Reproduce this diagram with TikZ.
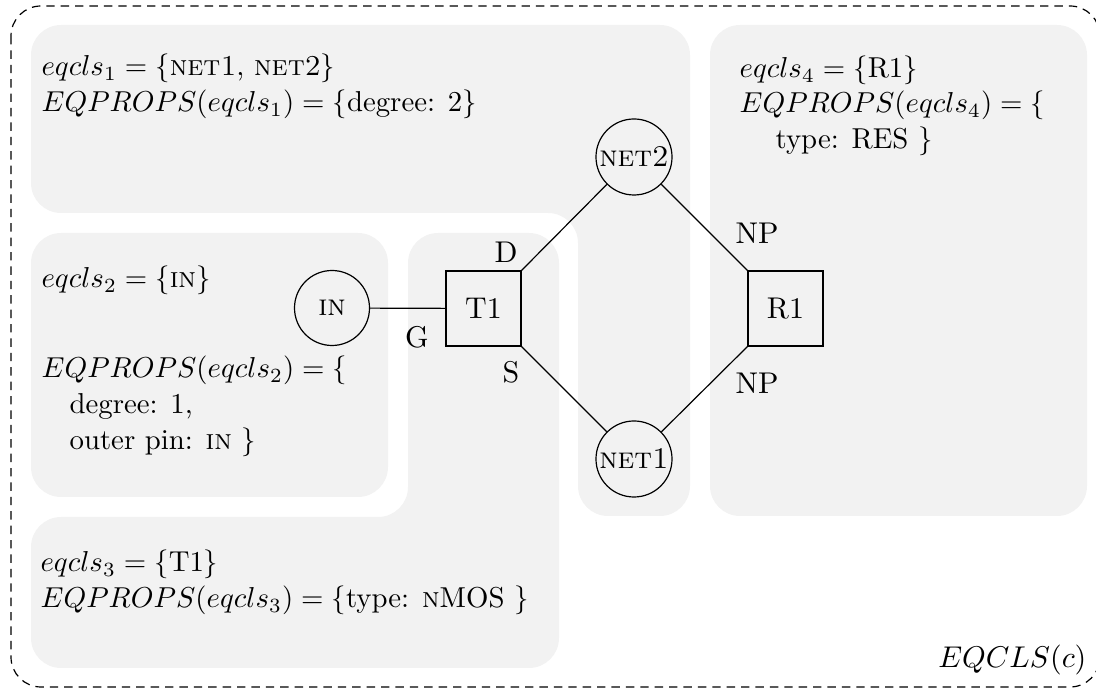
\documentclass[tikz,border=0pt]{standalone}
\usetikzlibrary{positioning}

% description lines are set slightly smaller than the circuit labels
\newcommand{\clstext}[1]{\scalebox{0.96}{#1}}

\tikzset{
  region/.style={fill=gray!10, draw=none, rounded corners=10pt},
  frame/.style={draw=black, line width=0.4pt, dash pattern=on 2.8pt off 2pt, rounded corners=10pt},
  circ/.style={circle, draw, minimum size=25pt, inner sep=0.5pt},
  devbox/.style={rectangle, draw, minimum size=25pt, inner sep=0pt},
  txt/.style={anchor=base west, inner sep=0pt},
  pinlbl/.style={inner sep=0pt},
}

\begin{document}
\begin{tikzpicture}[x=0.3333pt, y=-0.3333pt]
  \useasboundingbox (0,0) rectangle (1096,689);

  % equivalence-class regions
  \fill[region] (31,25) -- (690,25) -- (690,516) -- (578,516) -- (578,213) -- (31,213) -- cycle;
  \fill[region] (31,233) rectangle (388,497);
  \fill[region] (408,233) -- (559,233) -- (559,668) -- (31,668) -- (31,517) -- (408,517) -- cycle;
  \fill[region] (710,25) rectangle (1087,516);

  % outer frame of the circuit
  \draw[frame] (11,6) rectangle (1100,687);

  % circuit elements
  \node[circ] (in) at (332,308) {\textsc{in}};
  \node[circ] (net2) at (634,157) {\textsc{net2}};
  \node[circ] (net1) at (634,459) {\textsc{net1}};
  \node[devbox] (t1) at (483.5,308.5) {T1};
  \node[devbox] (r1) at (785.5,308.5) {R1};

  % wires
  \draw (in) -- (t1);
  \draw (t1.north east) -- (net2);
  \draw (t1.south east) -- (net1);
  \draw (net2) -- (r1.north west);
  \draw (net1) -- (r1.south west);

  % pin labels
  \node[pinlbl] (pd) at (506,252) {D};
  \node[pinlbl] (pg) at (417,337) {G};
  \node[pinlbl] (ps) at (511,372) {S};
  \node[pinlbl] (pnp1) at (757,233) {NP};
  \node[pinlbl] (pnp2) at (757,383) {NP};

  % class 1
  \node[txt] (c1a) at (41,76) {\clstext{$eqcls_1 = \{\mbox{\textsc{net1}, \textsc{net2}}\}$}};
  \node[txt] (c1b) at (41,112) {\clstext{$EQPROPS(eqcls_1) = \{\mbox{degree: 2}\}$}};

  % class 2
  \node[txt] (c2a) at (41,288) {\clstext{$eqcls_2 = \{\mbox{\textsc{in}}\}$}};
  \node[txt] (c2b) at (41,378) {\clstext{$EQPROPS(eqcls_2) = \{$}};
  \node[txt] (c2c) at (69,414) {\clstext{degree: 1,}};
  \node[txt] (c2d) at (69,450) {\clstext{outer pin: \textsc{in} $\}$}};

  % class 3
  \node[txt] (c3a) at (40,572) {\clstext{$eqcls_3 = \{\mbox{T1}\}$}};
  \node[txt] (c3b) at (40,608) {\clstext{$EQPROPS(eqcls_3) = \{\mbox{type: \textsc{n}MOS }\}$}};

  % class 4
  \node[txt] (c4a) at (739,78) {\clstext{$eqcls_4 = \{\mbox{R1}\}$}};
  \node[txt] (c4b) at (739,113) {\clstext{$EQPROPS(eqcls_4) = \{$}};
  \node[txt] (c4c) at (775,149) {\clstext{type: RES $\}$}};

  % label of the whole partition
  \node[anchor=base east, inner sep=0pt] (eqcls) at (1087,668) {$EQCLS(c)$};
\end{tikzpicture}
\end{document}
